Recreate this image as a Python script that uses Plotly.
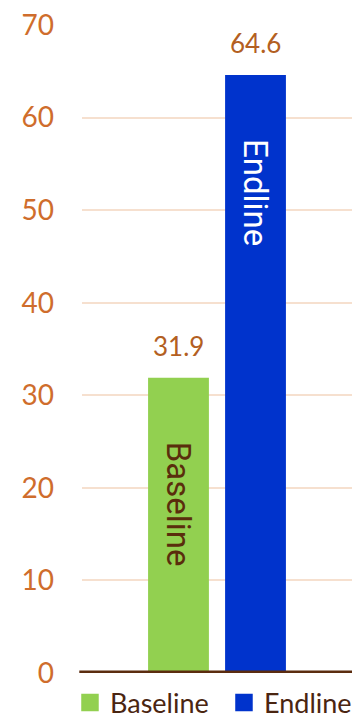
import plotly.graph_objects as go

categories = ["Baseline", "Endline"]
values = [31.9, 64.6]
colors = ["#92d050", "#0033cc"]
inside_text_colors = ["#5a2d0c", "#ffffff"]
y_ticks = [0, 10, 20, 30, 40, 50, 60, 70]

fig = go.Figure()

for cat, val, col in zip(categories, values, colors):
    fig.add_trace(go.Bar(
        x=[cat], y=[val], marker=dict(color=col, line=dict(width=0)),
        width=0.79, showlegend=False, hoverinfo="skip",
    ))

# legend entries with larger square symbols
for cat, col in zip(categories, colors):
    fig.add_trace(go.Scatter(
        x=[None], y=[None], mode="markers", name=cat,
        marker=dict(symbol="square", size=16, color=col,
                    line=dict(color=col, width=1.5)),
    ))

annotations = []
for cat, val, tcol in zip(categories, values, inside_text_colors):
    annotations.append(dict(
        x=cat, y=val, xref="x", yref="y", text=f"{val}", showarrow=False,
        yanchor="bottom", yshift=14,
        font=dict(family="Lato, sans-serif", size=26, color="#b35f22"),
    ))
    annotations.append(dict(
        x=cat, y=val, xref="x", yref="y", text=cat, showarrow=False,
        textangle=90, yanchor="top", yshift=-62,
        font=dict(family="Roboto, sans-serif", size=33, color=tcol),
    ))

fig.update_layout(
    width=362, height=722,
    margin=dict(l=82, r=10, t=25, b=49, autoexpand=False),
    plot_bgcolor="white", paper_bgcolor="white",
    barmode="overlay",
    annotations=annotations,
    shapes=[dict(
        type="line", xref="paper", yref="y", x0=-0.01, x1=1.0, y0=0, y1=0,
        line=dict(color="#5b2c0f", width=5), layer="above",
    )],
    xaxis=dict(
        range=[-1.253, 2.253], showticklabels=False, showgrid=False,
        zeroline=False, showline=False, fixedrange=True,
    ),
    yaxis=dict(
        range=[0, 70], tickvals=y_ticks, showgrid=True,
        gridcolor="#f6e0cf", gridwidth=2, zeroline=False, showline=False,
        tickfont=dict(family="Lato, sans-serif", size=28, color="#cf6d2c"),
        ticklabelstandoff=27,
    ),
    legend=dict(
        orientation="h", x=-0.0445, xanchor="left", y=-0.0463, yanchor="middle",
        font=dict(family="Lato, sans-serif", size=27, color="#4a2511"),
        itemwidth=30, tracegroupgap=0, bgcolor="rgba(0,0,0,0)",
        entrywidth=109, entrywidthmode="pixels",
    ),
)

fig.write_html("out.html")
